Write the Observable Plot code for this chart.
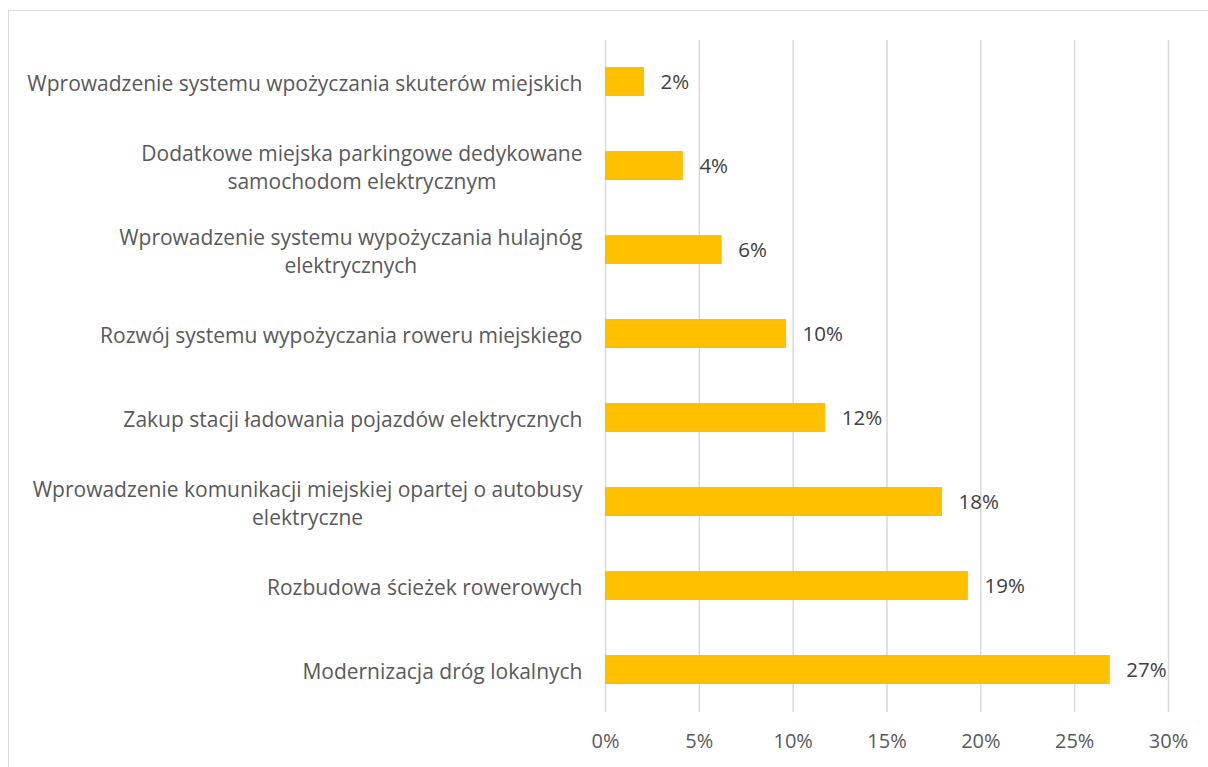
<!DOCTYPE html>
<html>
<head>
<meta charset="utf-8">
<script src="https://cdn.jsdelivr.net/npm/d3@7"></script>
<script src="https://cdn.jsdelivr.net/npm/@observablehq/plot@0.6"></script>
<style>
  html, body { margin: 0; padding: 0; background: #fff; overflow: hidden; }
  #wrap { position: relative; width: 1208px; height: 767px; }
  #frame { position: absolute; left: 8px; top: 10px; width: 1400px; height: 900px;
           border: 1.5px solid #d9d9d9; box-sizing: border-box; }
  #chart { position: absolute; left: 0; top: 0; }
</style>
</head>
<body>
<div id="wrap"><div id="frame"></div><div id="chart"></div></div>
<script>
const categories = [
  "Wprowadzenie systemu wpożyczania skuterów miejskich",
  "Dodatkowe miejska parkingowe dedykowane\nsamochodom elektrycznym",
  "Wprowadzenie systemu wypożyczania hulajnóg\nelektrycznych",
  "Rozwój systemu wypożyczania roweru miejskiego",
  "Zakup stacji ładowania pojazdów elektrycznych",
  "Wprowadzenie komunikacji miejskiej opartej o autobusy\nelektryczne",
  "Rozbudowa ścieżek rowerowych",
  "Modernizacja dróg lokalnych"
];
const values = [0.0208, 0.0415, 0.0622, 0.0965, 0.1174, 0.1796, 0.1934, 0.269];
const valueLabels = ["2%", "4%", "6%", "10%", "12%", "18%", "19%", "27%"];
const xTicks = [0, 0.05, 0.10, 0.15, 0.20, 0.25, 0.30];
const xTickLabels = ["0%", "5%", "10%", "15%", "20%", "25%", "30%"];

const data = categories.map((c, i) => ({cat: c, value: values[i], label: valueLabels[i]}));

const FONT = "'Open Sans', Lato, sans-serif";

const chart = Plot.plot({
  width: 1208,
  height: 767,
  marginLeft: 605,
  marginRight: 40,
  marginTop: 40,
  marginBottom: 55,
  style: {fontFamily: FONT, fontSize: "20px", color: "#595959", background: "transparent"},
  x: {domain: [0, 0.3], ticks: xTicks, axis: null},
  y: {domain: categories, paddingInner: 0.65, paddingOuter: 0.325, axis: null},
  marks: [
    Plot.ruleX(xTicks, {stroke: "#d9d9d9", strokeWidth: 1.5}),
    Plot.barX(data, {x: "value", y: "cat", fill: "#FFC000"}),
    Plot.text(data, {x: "value", y: "cat", text: "label", textAnchor: "start", dx: 16,
                     fill: "#404040", fontSize: 20.5}),
    Plot.text(data, {x: 0, y: "cat", text: "cat", textAnchor: "end", dx: -23,
                     fill: "#595959", fontSize: 21, lineHeight: 1.33, className: "catlab"}),
    Plot.axisX({ticks: xTicks, tickFormat: (d) => xTickLabels[xTicks.indexOf(d)],
                tickSize: 0, tickPadding: 21, fontSize: 20, fill: "#595959", label: null})
  ]
});
document.getElementById("chart").appendChild(chart);

// center multi-line category labels within their right-aligned block (as in the original)
d3.select(chart).selectAll("g.catlab text").each(function() {
  const tspans = d3.select(this).selectAll("tspan");
  if (tspans.size() > 1) {
    let maxW = 0;
    tspans.each(function() { maxW = Math.max(maxW, this.getComputedTextLength()); });
    d3.select(this).attr("text-anchor", "middle");
    tspans.attr("x", -maxW / 2);
  }
});
</script>
</body>
</html>
